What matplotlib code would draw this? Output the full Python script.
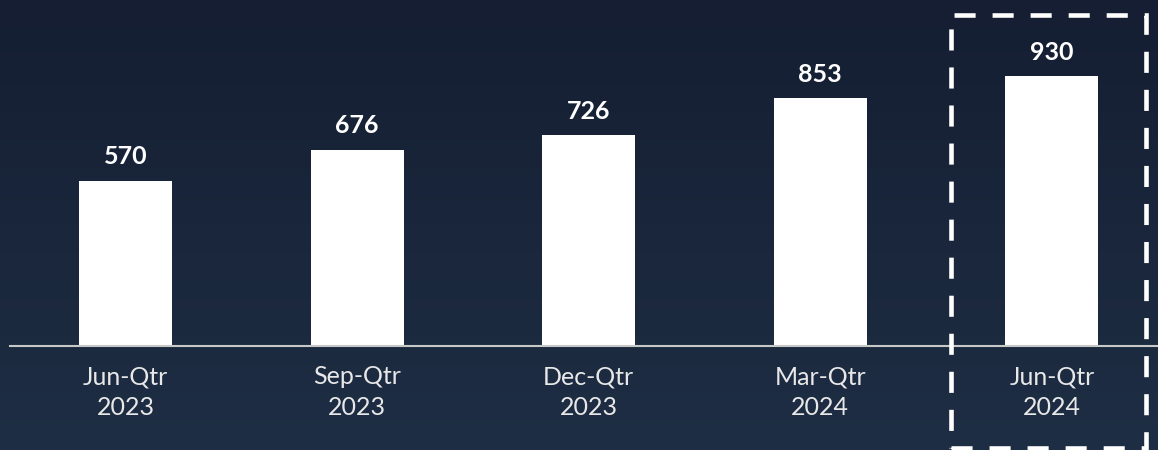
import matplotlib
matplotlib.use("Agg")
import matplotlib.pyplot as plt
import numpy as np
from matplotlib.colors import LinearSegmentedColormap
from matplotlib.patches import Rectangle

categories = ["Jun-Qtr\n2023", "Sep-Qtr\n2023", "Dec-Qtr\n2023", "Mar-Qtr\n2024", "Jun-Qtr\n2024"]
values = [570, 676, 726, 853, 930]

plt.rcParams['font.family'] = ['Lato', 'DejaVu Sans']

W, H = 1158, 450
fig = plt.figure(figsize=(W / 100, H / 100), dpi=100)

# gradient background
bg = fig.add_axes([0, 0, 1, 1], zorder=0)
cmap = LinearSegmentedColormap.from_list("bg", ["#151e32", "#1e2e44"])
grad = np.linspace(0, 1, 256).reshape(-1, 1)
bg.imshow(grad, aspect="auto", cmap=cmap, extent=[0, 1, 0, 1], origin="upper")
bg.set_axis_off()

base_px = 104  # baseline from bottom in px
ax = fig.add_axes([0, base_px / H, 1, (H - base_px) / H], zorder=1)
ax.patch.set_alpha(0)

step = 231.6
c0 = 125.5
x = np.arange(len(values))
ax.set_xlim(-c0 / step, (W - c0) / step)
scale = 270 / 930  # px per unit
ax.set_ylim(0, (H - base_px) / scale)

ax.bar(x, values, width=93 / step, color="white", zorder=2)
for xi, v in zip(x, values):
    ax.annotate(f"{v}", (xi, v), xytext=(0, 9), textcoords="offset points",
                ha="center", va="bottom", color="white", fontsize=18, fontweight="bold")

for s in ["top", "right", "left"]:
    ax.spines[s].set_visible(False)
ax.spines["bottom"].set_color("#c8c8c8")
ax.spines["bottom"].set_linewidth(1.5)
ax.spines["bottom"].set_bounds(-c0 / step + 10 / step, (W - c0) / step)
ax.set_yticks([])
ax.set_xticks(x)
ax.set_xticklabels(categories, color="#e8e8e8", fontsize=18, linespacing=1.38)
ax.tick_params(axis="x", length=0, pad=14)

# dashed highlight box (figure pixel coordinates)
left, right, top, bottom = 951, 1146, 15, 448
rect = Rectangle((left / W, (H - bottom) / H), (right - left) / W, (bottom - top) / H,
                 transform=fig.transFigure, fill=False, edgecolor="white",
                 linewidth=3.3, linestyle=(0, (4.6, 3.7)), zorder=5)
fig.add_artist(rect)

fig.savefig("out.png", dpi=100)
